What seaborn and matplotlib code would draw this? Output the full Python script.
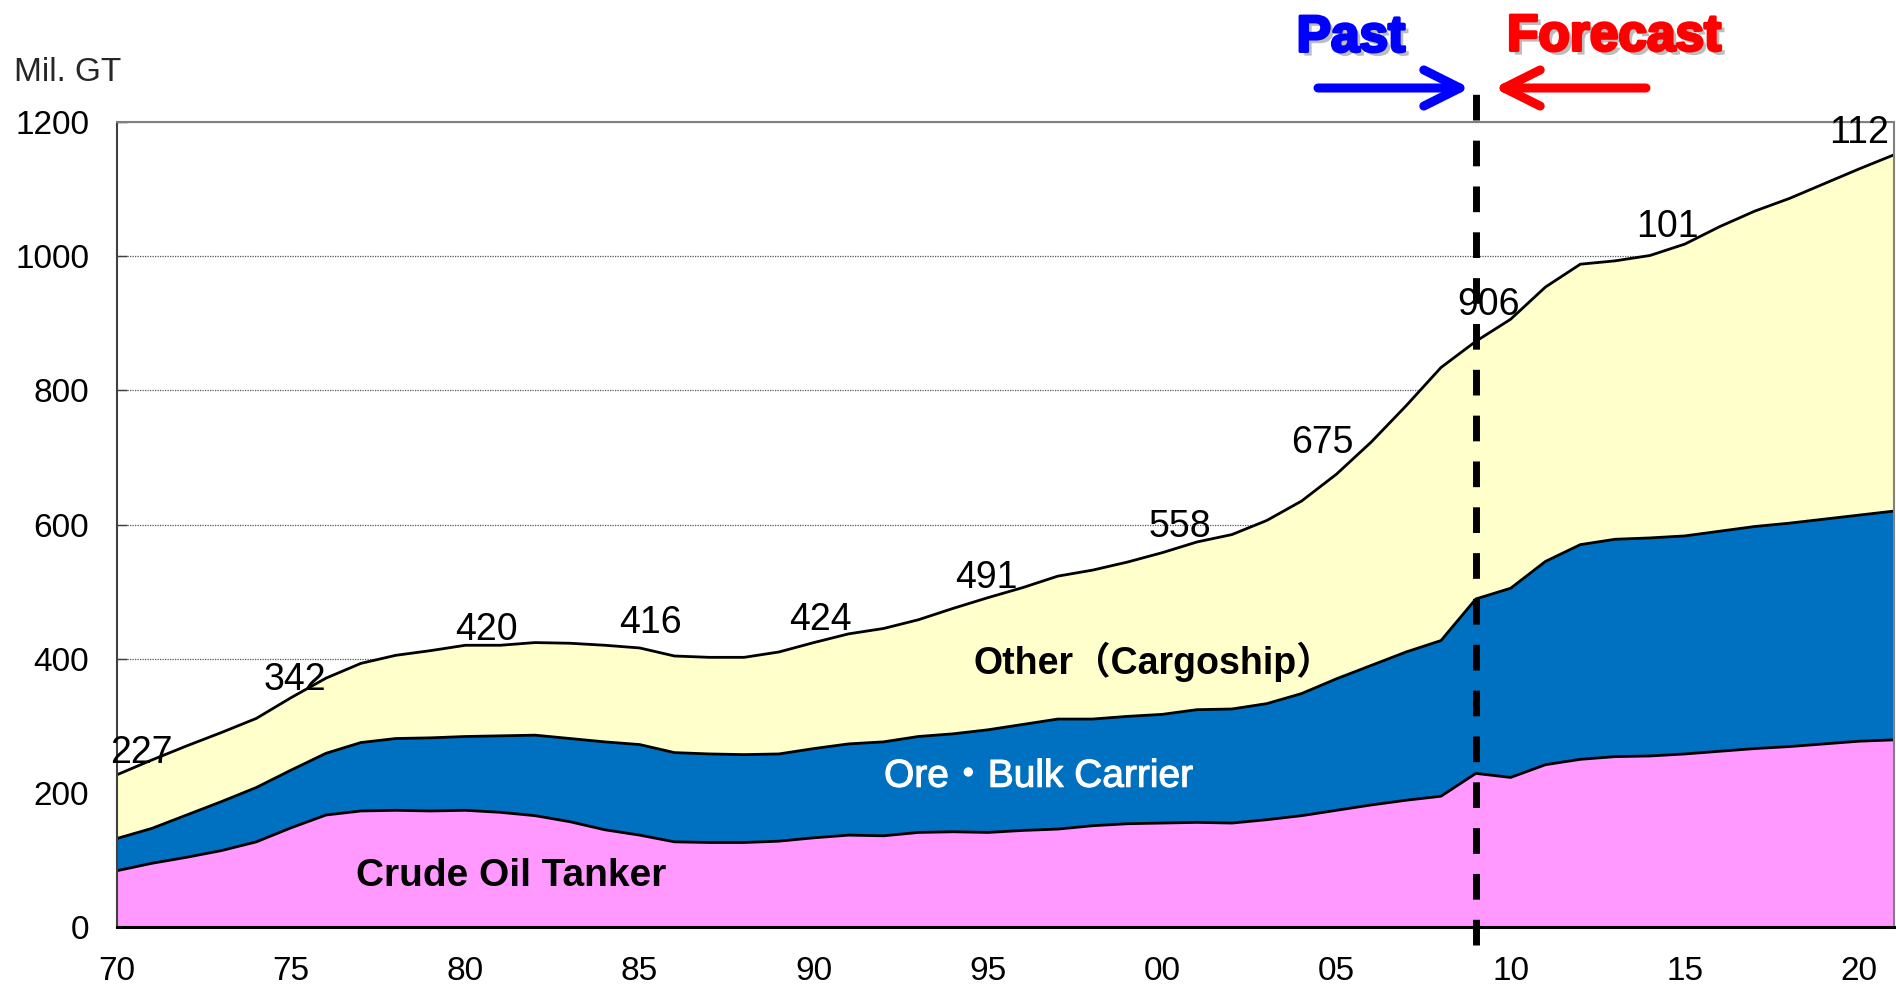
import numpy as np
import pandas as pd
import matplotlib
matplotlib.use("Agg")
import matplotlib.pyplot as plt
import matplotlib.patheffects as pe
import seaborn as sns

# ---------------------------------------------------------------------------
# Data (Mil. GT), 1970-2021
# ---------------------------------------------------------------------------
years = list(range(1970, 2022))

tanker = [84, 95, 104, 114, 127, 148, 167, 173, 174, 173,
          174, 171, 166, 157, 145, 137, 127, 126, 126, 128,
          133, 137, 136, 141, 142, 141, 144, 146, 151, 154,
          155, 156, 155, 160, 166, 174, 182, 189, 195, 229,
          223, 242, 250, 254, 255, 258, 262, 266, 269, 273,
          277, 279]

tanker_plus_bulk = [132, 147, 167, 187, 208, 234, 259, 275, 281, 282,
                    284, 285, 286, 281, 276, 272, 260, 258, 257, 258,
                    266, 273, 276, 284, 288, 294, 302, 310, 310, 314,
                    317, 324, 325, 333, 348, 370, 390, 410, 427, 489,
                    505, 545, 570, 578, 580, 583, 590, 597, 602, 608,
                    614, 620]

total = [227, 249, 270, 290, 311, 342, 371, 393, 405, 412,
         420, 420, 424, 423, 420, 416, 404, 402, 402, 410,
         424, 437, 445, 458, 475, 491, 506, 523, 532, 544,
         558, 574, 585, 606, 635, 675, 723, 777, 834, 873,
         906, 954, 988, 993, 1001, 1018, 1044, 1067, 1086, 1108,
         1130, 1151]

# data labels as they appear on the chart
label_texts = ["227", "342", "420", "416", "424", "491",
               "558", "675", "906", "101", "112"]
label_x = [1970.7, 1975.1, 1980.6, 1985.3, 1990.2, 1994.95,
           2000.5, 2004.6, 2009.35, 2014.5, 2020.0]
label_y = [259, 368, 443, 453, 458, 520, 597, 721, 927, 1043, 1184]

df = pd.DataFrame({
    "year": years,
    "tanker": tanker,
    "bulk": np.array(tanker_plus_bulk) - np.array(tanker),
    "other": np.array(total) - np.array(tanker_plus_bulk),
})
df["lvl1"] = df["tanker"]
df["lvl2"] = df["lvl1"] + df["bulk"]
df["lvl3"] = df["lvl2"] + df["other"]

# ---------------------------------------------------------------------------
# Style
# ---------------------------------------------------------------------------
sns.set_theme(style="white")
plt.rcParams["font.family"] = ["Liberation Sans", "Noto Sans CJK JP"]

COL_TANKER = "#FF99FF"
COL_BULK = "#0070C0"
COL_OTHER = "#FFFFCC"

fig = plt.figure(figsize=(18.96, 9.86), dpi=100)
ax = fig.add_axes([0.0617, 0.0598, 0.9372, 0.8165])

# stacked areas
ax.fill_between(df["year"], 0, df["lvl1"], color=COL_TANKER, lw=0, zorder=2)
ax.fill_between(df["year"], df["lvl1"], df["lvl2"], color=COL_BULK, lw=0, zorder=2)
ax.fill_between(df["year"], df["lvl2"], df["lvl3"], color=COL_OTHER, lw=0, zorder=2)

# boundary lines
for col in ["lvl1", "lvl2", "lvl3"]:
    sns.lineplot(data=df, x="year", y=col, color="black", lw=2.0, ax=ax, zorder=3)

ax.set_xlim(1970, 2021)
ax.set_ylim(0, 1200)
ax.set_xlabel("")
ax.set_ylabel("")

# ticks
ax.set_xticks(range(1970, 2021, 5))
ax.set_xticklabels([f"{y % 100:02d}" for y in range(1970, 2021, 5)])
ax.set_xticks(range(1970, 2021), minor=True)
ax.set_yticks(range(0, 1201, 200))
ax.tick_params(axis="both", which="both", direction="in", length=7.5,
               width=1.0, color="#404040", labelsize=24, pad=20,
               top=False, right=False, bottom=True, left=True)
ax.tick_params(axis="x", pad=21)
for t in ax.get_xticklabels() + ax.get_yticklabels():
    t.set_color("black")

# grid
ax.yaxis.grid(True, linestyle=(0, (1, 1)), color="#555555", lw=0.9, zorder=1)
ax.xaxis.grid(False)
ax.set_axisbelow(True)

# spines
for side in ["top", "right"]:
    ax.spines[side].set_color("#808080")
    ax.spines[side].set_linewidth(1.5)
ax.spines["left"].set_color("#404040")
ax.spines["left"].set_linewidth(1.5)
ax.spines["bottom"].set_color("black")
ax.spines["bottom"].set_linewidth(2.2)
for s in ax.spines.values():
    s.set_zorder(5)

# data labels
for txt, x, y in zip(label_texts, label_x, label_y):
    ax.text(x, y, txt, fontsize=27, ha="center", va="center", color="black",
            zorder=6, clip_on=False)

# segment labels
ax.text(1981.3, 76, "Crude Oil Tanker", fontsize=28, fontweight="bold",
        ha="center", va="center", color="black", zorder=6)
ax.text(1996.45, 224, "Ore・Bulk Carrier", fontsize=28,
        ha="center", va="center", color="white", zorder=6,
        path_effects=[pe.Stroke(linewidth=0.8, foreground="white"), pe.Normal()])
ax.text(1999.75, 395, "Other（Cargoship）", fontsize=27, fontweight="bold",
        ha="center", va="center", color="black", zorder=6)

# past / forecast divider
ax.axvline(2009, ymin=-0.022, ymax=1.042, color="black", lw=5,
           linestyle=(0, (3.7, 2.9)), clip_on=False, zorder=7)

fig.text(0.0359, 0.9265, "Mil. GT", fontsize=24, ha="center", va="center")


def heavy(color):
    return [pe.withSimplePatchShadow(offset=(3, -3), shadow_rgbFace="#444444", alpha=0.35),
            pe.Stroke(linewidth=2.2, foreground=color), pe.Normal()]


fig.text(0.7125, 0.9615, "Past", fontsize=37, fontweight="bold", color="#0000FF",
         ha="center", va="center", path_effects=heavy("#0000FF"))
fig.text(0.8513, 0.9625, "Forecast", fontsize=37, fontweight="bold", color="#FF0000",
         ha="center", va="center", path_effects=heavy("#FF0000"))

arrow_y = 1 - 88 / 986
ax.annotate("", xy=(1470 / 1896, arrow_y), xytext=(1318 / 1896, arrow_y),
            xycoords="figure fraction", textcoords="figure fraction",
            arrowprops=dict(arrowstyle="->, head_length=2.6, head_width=1.3",
                            mutation_scale=10, color="#0000FF", lw=6.5,
                            capstyle="round", joinstyle="round",
                            shrinkA=0, shrinkB=0))
ax.annotate("", xy=(1494 / 1896, arrow_y), xytext=(1646 / 1896, arrow_y),
            xycoords="figure fraction", textcoords="figure fraction",
            arrowprops=dict(arrowstyle="->, head_length=2.6, head_width=1.3",
                            mutation_scale=10, color="#FF0000", lw=6.5,
                            capstyle="round", joinstyle="round",
                            shrinkA=0, shrinkB=0))

fig.savefig("out.png", dpi=100)
